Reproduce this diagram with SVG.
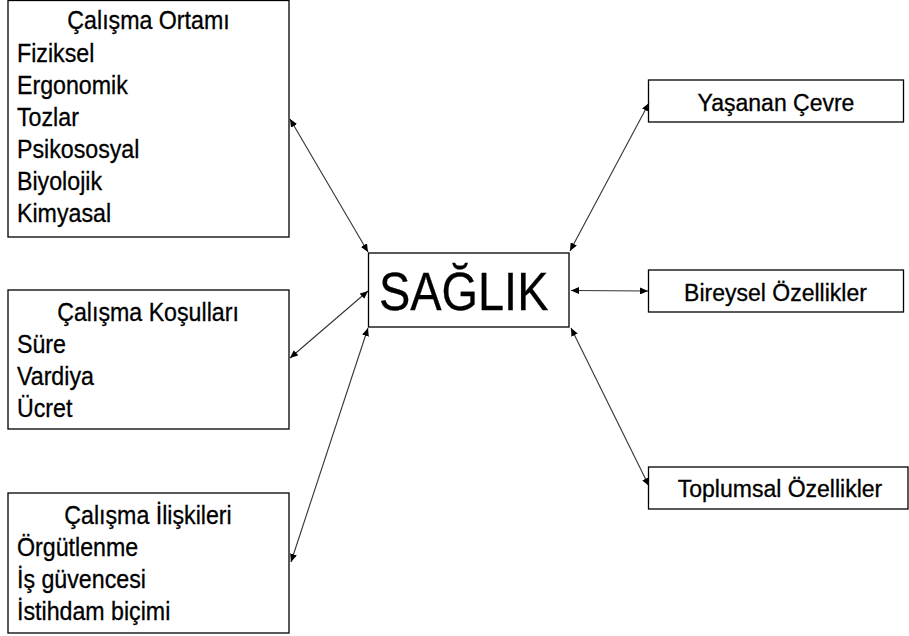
<svg xmlns="http://www.w3.org/2000/svg" width="909" height="636" viewBox="0 0 909 636">
<style>
.box{fill:#fff;stroke:#000;stroke-width:1.3}
.t{font-family:"Liberation Sans",Arial,sans-serif;fill:#000;stroke:#000;stroke-width:0.3}
.l{font-size:25.5px}
.r{font-size:23px;text-anchor:middle}
.c{text-anchor:middle}
.con line{stroke:#333;stroke-width:1.1;marker-start:url(#ah);marker-end:url(#ah)}
</style>
<defs>
<marker id="ah" viewBox="0 0 10 10" refX="10" refY="5" markerWidth="8" markerHeight="7" markerUnits="userSpaceOnUse" orient="auto-start-reverse" preserveAspectRatio="none">
<path d="M0,0 L10,5 L0,10 z" fill="#000"/>
</marker>
</defs>
<rect width="909" height="636" fill="#fff"/>
<g id="ortam">
<rect class="box" x="8" y="0.5" width="281" height="236.5"/>
<g transform="translate(148.5,0) scale(0.91,1)"><text class="t l c" x="0" y="29">Çalışma Ortamı</text></g>
<g transform="translate(17,0) scale(0.91,1)" class="t l">
<text x="0" y="62">Fiziksel</text>
<text x="0" y="94">Ergonomik</text>
<text x="0" y="126">Tozlar</text>
<text x="0" y="158">Psikososyal</text>
<text x="0" y="190">Biyolojik</text>
<text x="0" y="222">Kimyasal</text>
</g>
</g>
<g id="kosullar">
<rect class="box" x="8" y="290" width="281" height="139"/>
<g transform="translate(148,0) scale(0.91,1)"><text class="t l c" x="0" y="321">Çalışma Koşulları</text></g>
<g transform="translate(17,0) scale(0.91,1)" class="t l">
<text x="0" y="353">Süre</text>
<text x="0" y="385">Vardiya</text>
<text x="0" y="417">Ücret</text>
</g>
</g>
<g id="iliskiler">
<rect class="box" x="8" y="493" width="281" height="140"/>
<g transform="translate(148,0) scale(0.91,1)"><text class="t l c" x="0" y="524">Çalışma İlişkileri</text></g>
<g transform="translate(17,0) scale(0.91,1)" class="t l">
<text x="0" y="556">Örgütlenme</text>
<text x="0" y="588">İş güvencesi</text>
<text x="0" y="620">İstihdam biçimi</text>
</g>
</g>
<g id="saglik">
<rect class="box" x="368.5" y="253" width="200.5" height="74"/>
<g transform="translate(379,0) scale(0.885,1)"><text class="t" x="0" y="310" font-size="53">SAĞLIK</text></g>
</g>
<g id="cevre">
<rect class="box" x="648.5" y="80" width="255" height="42"/>
<text class="t r" x="776" y="110.5">Yaşanan Çevre</text>
</g>
<g id="bireysel">
<rect class="box" x="648.5" y="270" width="255" height="42"/>
<text class="t r" x="775.5" y="300.5">Bireysel Özellikler</text>
</g>
<g id="toplumsal">
<rect class="box" x="648.5" y="467" width="259.5" height="42"/>
<text class="t r" x="780" y="496.5">Toplumsal Özellikler</text>
</g>
<g id="connectors" class="con">
<line x1="290" y1="119" x2="368" y2="252"/>
<line x1="290" y1="358" x2="368" y2="291"/>
<line x1="291" y1="562" x2="368" y2="328"/>
<line x1="649" y1="103" x2="570" y2="251"/>
<line x1="571" y1="290.5" x2="648" y2="291"/>
<line x1="571" y1="328" x2="649" y2="486"/>
</g>
</svg>
